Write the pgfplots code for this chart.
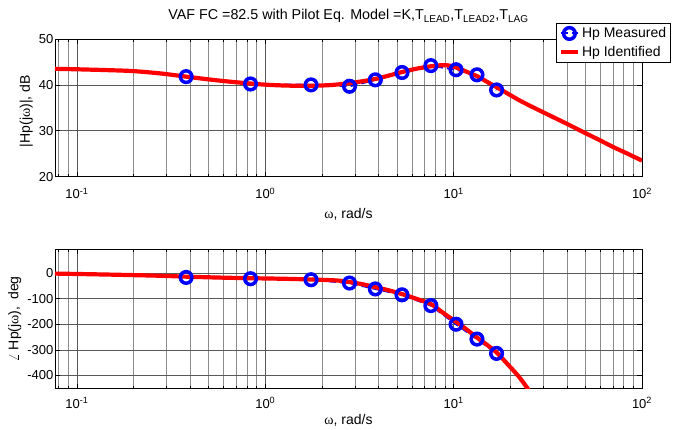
\documentclass[border=0pt]{standalone}
\usepackage{pgfplots}
\pgfplotsset{compat=1.18}
\usepackage{fontspec}
\setmainfont{Liberation Sans}
\newfontfamily\gk{Liberation Serif}

\newcommand\tickfont{\fontsize{13}{15}\selectfont}
\newcommand\labfont{\fontsize{14}{16}\selectfont}
\newcommand\legfont{\fontsize{14}{16}\selectfont}

% Measured points: frequency (rad/s), magnitude (dB), phase (deg)
\pgfplotstableread{
w      mag   ph
0.38   41.8  -17
0.835  40.2  -22
1.75   40.0  -26
2.80   39.7  -39
3.84   41.1  -62
5.32   42.7  -85
7.57   44.2  -127
10.3   43.3  -200
13.3   42.2  -258
16.9   38.9  -314
}\measured

% Identified model magnitude
\pgfplotstableread{
w      mag
0.0765 43.5
0.1    43.4
0.15   43.2
0.2    43.0
0.277  42.5
0.38   41.8
0.5    41.2
0.65   40.7
0.835  40.3
1.0    40.05
1.3    39.85
1.75   39.8
2.19   39.95
2.5    40.15
2.8    40.4
3.3    40.8
3.84   41.3
4.5    42.0
5.32   42.8
6.3    43.5
7.57   44.05
8.7    44.3
9.5    44.2
10.3   43.8
11.5   43.0
13.3   41.9
15     40.7
16.9   39.5
19     38.3
22.2   36.7
25     35.6
30     34.0
40     31.5
50     29.5
60     27.9
70     26.5
80     25.4
90     24.4
100    23.5
}\fitmag

% Identified model phase
\pgfplotstableread{
w      ph
0.0765 -2
0.1    -3.5
0.15   -6
0.2    -8
0.277  -10.5
0.38   -14
0.5    -16.5
0.65   -18.5
0.835  -20
1.0    -21
1.3    -22.5
1.75   -25
2.19   -27.5
2.5    -30
2.8    -35
3.3    -44
3.84   -55
4.5    -67
5.32   -82
6.3    -100
7.57   -121
8.7    -153
9.5    -173
10.3   -190
11.5   -216
13.3   -252
15     -280
16.9   -310
19     -350
22.2   -405
25     -457
26.5   -490
}\fitph

\begin{document}
\begin{tikzpicture}
\useasboundingbox (0,0) rectangle (682pt,430pt);

% Magnitude
\begin{axis}[
  xmode=log, scale only axis, width=587pt, height=137.7pt,
  at={(55pt,253.3pt)}, anchor=south west,
  xmin=0.0765, xmax=100, ymin=20, ymax=50,
  axis line style={black, line width=0.8pt},
  tick style={black, line width=0.6pt},
  tick align=inside,
  major tick length=5pt, minor tick length=3pt,
  xtick={0.1,1,10,100},
  xticklabels={10\textsuperscript{-1},10\textsuperscript{0},10\textsuperscript{1},10\textsuperscript{2}},
  minor xtick={0.08,0.09,0.2,0.3,0.4,0.5,0.6,0.7,0.8,0.9,2,3,4,5,6,7,8,9,20,30,40,50,60,70,80,90},
  ytick={20,30,40,50},
  yticklabels={20,30,40,50},
  minor y tick num=0,
  grid=both,
  major grid style={black!65, line width=0.6pt},
  minor grid style={black!45, line width=0.6pt},
  tick label style={font=\tickfont},
  yticklabel style={inner sep=1.5pt},
  xticklabel style={anchor=base, yshift=-22pt},
  label style={font=\labfont},
  xlabel={{\gk ω}, rad/s},
  xlabel style={at={(axis description cs:0.5,0)}, anchor=base, yshift=-42pt},
  ylabel={|Hp(j{\gk ω})|, dB},
  ylabel style={at={(axis description cs:-0.043,0.475)}, anchor=base},
  title={VAF FC =82.5 with Pilot Eq. Model =K,T\textsubscript{LEAD},T\textsubscript{LEAD2},T\textsubscript{LAG}},
  title style={font=\fontsize{14.3}{16}\selectfont, at={(axis description cs:0.5,1)}, anchor=base, yshift=13pt},
  legend style={at={(1.0494,1.118)}, anchor=north east, font=\legfont,
    draw=black, line width=0.8pt, inner sep=2.5pt, row sep=3pt,
    cells={anchor=west}},
]
\addplot[blue, line width=2pt, dash pattern=on 7pt off 4pt,
    mark=o, mark size=5.8pt, mark options={solid, line width=3.5pt}]
  table[x=w, y=mag] {\measured};
\addlegendentry{Hp Measured}
\addplot[red, line width=4.2pt, smooth] table[x=w, y=mag] {\fitmag};
\addlegendentry{Hp Identified}
\end{axis}

% Phase
\begin{axis}[
  xmode=log, scale only axis, width=587pt, height=139.4pt,
  at={(55pt,41.3pt)}, anchor=south west,
  xmin=0.0765, xmax=100, ymin=-452, ymax=93,
  axis line style={black, line width=0.8pt},
  tick style={black, line width=0.6pt},
  tick align=inside,
  major tick length=5pt, minor tick length=3pt,
  xtick={0.1,1,10,100},
  xticklabels={10\textsuperscript{-1},10\textsuperscript{0},10\textsuperscript{1},10\textsuperscript{2}},
  minor xtick={0.08,0.09,0.2,0.3,0.4,0.5,0.6,0.7,0.8,0.9,2,3,4,5,6,7,8,9,20,30,40,50,60,70,80,90},
  ytick={-400,-300,-200,-100,0},
  yticklabels={-400,-300,-200,-100,0},
  minor y tick num=0,
  grid=both,
  major grid style={black!65, line width=0.6pt},
  minor grid style={black!45, line width=0.6pt},
  tick label style={font=\tickfont},
  yticklabel style={inner sep=1.5pt},
  xticklabel style={anchor=base, yshift=-19.5pt},
  label style={font=\labfont},
  xlabel={{\gk ω}, rad/s},
  xlabel style={at={(axis description cs:0.5,0)}, anchor=base, yshift=-36pt},
  ylabel={$\angle$ Hp(j{\gk ω}),\enspace deg},
  ylabel style={at={(axis description cs:-0.0622,0.5)}, anchor=base},
]
\addplot[blue, line width=2pt, dash pattern=on 7pt off 4pt,
    mark=o, mark size=5.8pt, mark options={solid, line width=3.5pt}]
  table[x=w, y=ph] {\measured};
\addplot[red, line width=4.2pt, smooth] table[x=w, y=ph] {\fitph};
\end{axis}
\end{tikzpicture}
\end{document}
